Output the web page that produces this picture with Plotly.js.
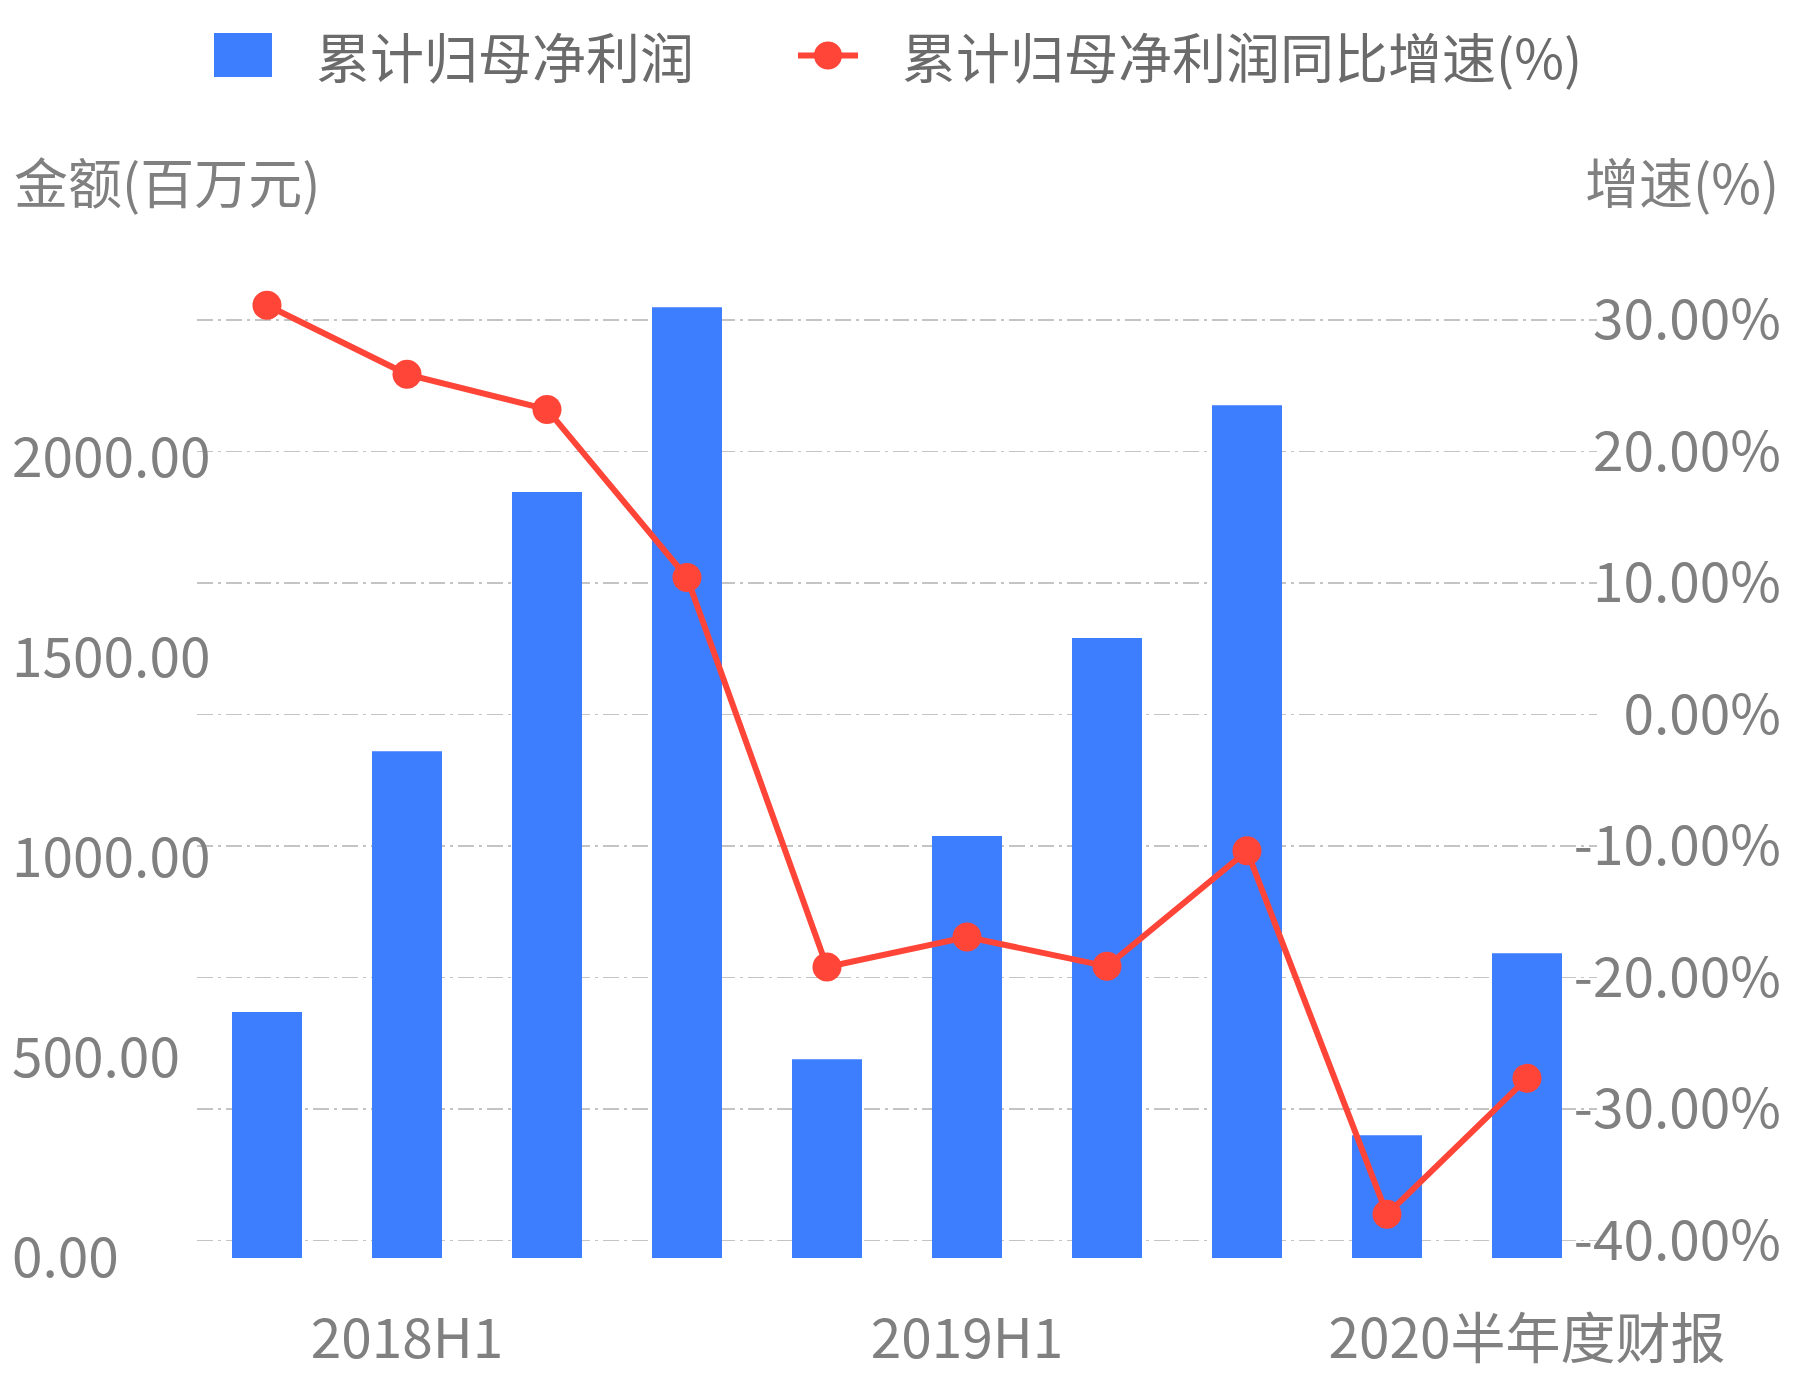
<!DOCTYPE html>
<html>
<head>
<meta charset="utf-8">
<script src="https://cdn.plot.ly/plotly-3.0.1.min.js"></script>
<style>html,body{margin:0;padding:0;background:#ffffff;}</style>
</head>
<body>
<div id="chart" style="width:1793px;height:1380px;"></div>
<script>
// ---- data ----
const categories = ["2018一季报", "2018H1", "2018三季报", "2018年报", "2019一季报", "2019H1", "2019三季报", "2019年报", "2020一季报", "2020半年度财报"];
const profitValues = [615, 1267, 1915, 2377, 497, 1055, 1550, 2132, 307, 762];
const growthValues = [31.12, 25.87, 23.20, 10.42, -19.20, -16.92, -19.15, -10.37, -38.01, -27.67];
const xTickLabels = ["2018H1", "2019H1", "2020半年度财报"];
const leftTickValues = [0, 500, 1000, 1500, 2000];
const rightTickValues = [-40, -30, -20, -10, 0, 10, 20, 30];
const seriesNames = ["累计归母净利润", "累计归母净利润同比增速(%)"];
const axisTitles = ["金额(百万元)", "增速(%)"];

// ---- tick label text built from the tick values ----
const leftTickText = leftTickValues.map(v => v.toFixed(2));
const rightTickText = rightTickValues.map(v => v.toFixed(2) + '%');

// ---- layout geometry (pixels) ----
const W = 1793, H = 1380;
const mL = 8, mR = 9, mT = 240, mB = 50;
const paperW = W - mL - mR;
const paperH = H - mT - mB;
const px2x = p => (p - mL) / paperW;          // page x pixel -> paper fraction
const px2y = p => (H - mB - p) / paperH;      // page y pixel -> paper fraction
const FONT = '"Noto Sans CJK SC", "Noto Sans", sans-serif';
const GRAY = '#808080';
const LEGEND_GRAY = '#6b6b6b';
const BLUE = '#3d7eff';
const RED = '#ff4538';

const traces = [
  {
    type: 'bar',
    name: seriesNames[0],
    x: categories,
    y: profitValues,
    yaxis: 'y',
    marker: {color: BLUE},
    hoverinfo: 'x+y'
  },
  {
    type: 'scatter',
    mode: 'lines+markers',
    name: seriesNames[1],
    x: categories,
    y: growthValues,
    yaxis: 'y2',
    line: {color: RED, width: 6},
    marker: {color: RED, size: 29},
    hoverinfo: 'x+y'
  }
];

const layout = {
  width: W,
  height: H,
  margin: {l: mL, r: mR, t: mT, b: mB, pad: 0},
  paper_bgcolor: '#ffffff',
  plot_bgcolor: '#ffffff',
  font: {family: FONT, color: GRAY, size: 55},
  bargap: 0.5,
  showlegend: false,
  xaxis: {
    type: 'category',
    domain: [px2x(197), px2x(1597)],
    range: [-0.5, categories.length - 0.5],
    anchor: 'free',
    position: px2y(1290),
    tickmode: 'array',
    tickvals: xTickLabels,
    ticktext: xTickLabels,
    showgrid: false,
    zeroline: false,
    showline: false,
    ticks: '',
    ticklabelstandoff: 12,
    tickfont: {family: FONT, size: 55, color: GRAY}
  },
  yaxis: {
    domain: [0, 1],
    range: [-(1330 - 1258) / 0.4, (1258 - 240) / 0.4],
    anchor: 'free',
    position: 0,
    side: 'left',
    ticklabelposition: 'inside',
    tickmode: 'array',
    tickvals: leftTickValues,
    ticktext: leftTickText,
    showgrid: false,
    zeroline: false,
    showline: false,
    ticks: '',
    tickfont: {family: FONT, size: 55, color: GRAY}
  },
  yaxis2: {
    overlaying: 'y',
    side: 'right',
    anchor: 'free',
    position: 1,
    ticklabelposition: 'inside',
    range: [-40 - (1330 - 1240.5) / 13.15, 30 + (320 - 240) / 13.15],
    tickmode: 'array',
    tickvals: rightTickValues,
    ticktext: rightTickText,
    showgrid: true,
    gridcolor: '#c4c4c4',
    gridwidth: 1.5,
    griddash: '16px,5px,3px,5px',
    zeroline: false,
    showline: false,
    ticks: '',
    tickfont: {family: FONT, size: 55, color: GRAY}
  },
  shapes: [
    // legend swatch: bars
    {type: 'rect', xref: 'paper', yref: 'paper',
     x0: px2x(214), x1: px2x(272), y0: px2y(77), y1: px2y(33),
     fillcolor: BLUE, line: {width: 0}},
    // legend swatch: line with marker
    {type: 'line', xref: 'paper', yref: 'paper',
     x0: px2x(798), x1: px2x(858), y0: px2y(55.5), y1: px2y(55.5),
     line: {color: RED, width: 6}},
    {type: 'circle', xref: 'paper', yref: 'paper',
     x0: px2x(814), x1: px2x(842), y0: px2y(69.5), y1: px2y(41.5),
     fillcolor: RED, line: {width: 0}}
  ],
  annotations: [
    {
      text: seriesNames[0],
      xref: 'paper', yref: 'paper',
      x: px2x(314), xanchor: 'left',
      y: px2y(55), yanchor: 'middle',
      showarrow: false,
      font: {family: FONT, size: 54, color: LEGEND_GRAY}
    },
    {
      text: seriesNames[1],
      xref: 'paper', yref: 'paper',
      x: px2x(900), xanchor: 'left',
      y: px2y(55), yanchor: 'middle',
      showarrow: false,
      font: {family: FONT, size: 54, color: LEGEND_GRAY}
    },
    {
      text: axisTitles[0],
      xref: 'paper', yref: 'paper',
      x: px2x(12), xanchor: 'left',
      y: px2y(180), yanchor: 'middle',
      showarrow: false,
      font: {family: FONT, size: 54, color: GRAY}
    },
    {
      text: axisTitles[1],
      xref: 'paper', yref: 'paper',
      x: px2x(1781), xanchor: 'right',
      y: px2y(180), yanchor: 'middle',
      showarrow: false,
      font: {family: FONT, size: 54, color: GRAY}
    }
  ]
};

Plotly.newPlot('chart', traces, layout, {displayModeBar: false, staticPlot: true});
</script>
</body>
</html>
